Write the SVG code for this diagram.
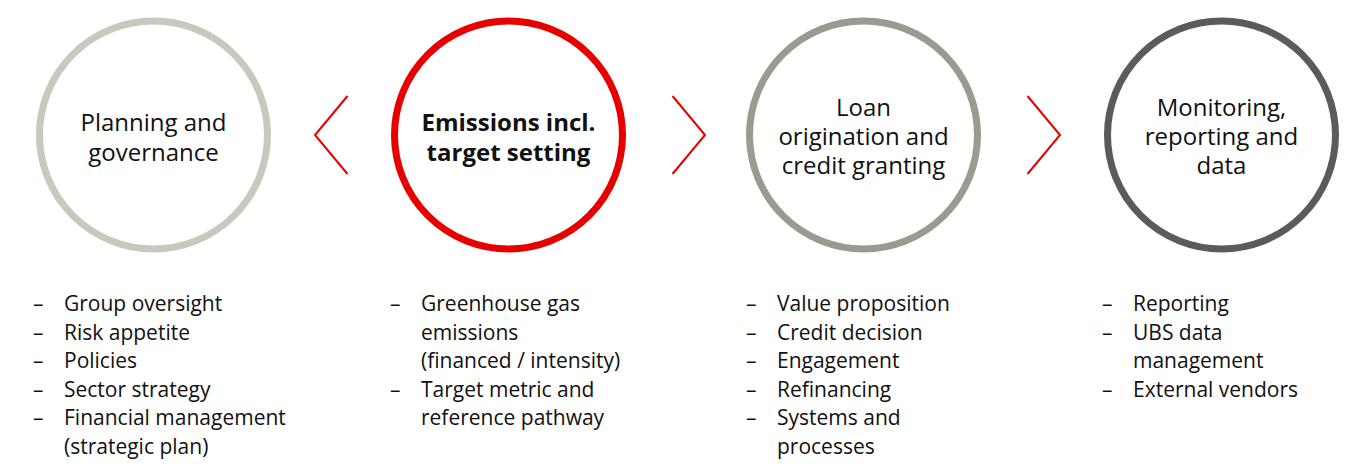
<svg xmlns="http://www.w3.org/2000/svg" width="1359" height="468" viewBox="0 0 1359 468">
<style>
.ring{fill:#fff;stroke-width:7}
.ct{font-family:"Open Sans","Noto Sans",sans-serif;font-size:24px;fill:#111;text-anchor:middle}
.bold{font-weight:bold}
.li{font-family:"Open Sans","Noto Sans",sans-serif;font-size:21px;fill:#111}
.chev{fill:none;stroke:#e60000;stroke-width:2}
</style>
<rect width="1359" height="468" fill="#fff"/>
<g id="connectors">
<polyline class="chev" points="347.5,96 315,135 347.5,174"/>
<polyline class="chev" points="672.5,96 705,135 672.5,174"/>
<polyline class="chev" points="1027.5,96 1060,135 1027.5,174"/>
</g>
<g id="planning">
<circle class="ring" cx="153.5" cy="135" r="114" stroke="#c9c8bc"/>
<text class="ct" x="153.5" y="131">Planning and</text>
<text class="ct" x="153.5" y="161">governance</text>
</g>
<g id="emissions">
<circle class="ring" cx="508.5" cy="135" r="114" stroke="#e60000"/>
<text class="ct bold" x="508.5" y="131">Emissions incl.</text>
<text class="ct bold" x="508.5" y="161">target setting</text>
</g>
<g id="loan">
<circle class="ring" cx="863.5" cy="135" r="114" stroke="#9a9a91"/>
<text class="ct" x="863.5" y="116">Loan</text>
<text class="ct" x="863.5" y="145">origination and</text>
<text class="ct" x="863.5" y="174">credit granting</text>
</g>
<g id="monitoring">
<circle class="ring" cx="1221.5" cy="135" r="114" stroke="#5b5c5a"/>
<text class="ct" x="1221.5" y="116">Monitoring,</text>
<text class="ct" x="1221.5" y="145">reporting and</text>
<text class="ct" x="1221.5" y="174">data</text>
</g>
<g id="list1">
<text class="li" x="33" y="311">–</text><text class="li" x="64" y="311">Group oversight</text>
<text class="li" x="33" y="339.5">–</text><text class="li" x="64" y="339.5">Risk appetite</text>
<text class="li" x="33" y="368">–</text><text class="li" x="64" y="368">Policies</text>
<text class="li" x="33" y="396.5">–</text><text class="li" x="64" y="396.5">Sector strategy</text>
<text class="li" x="33" y="425">–</text><text class="li" x="64" y="425">Financial management</text>
<text class="li" x="64" y="453.5">(strategic plan)</text>
</g>
<g id="list2">
<text class="li" x="390" y="311">–</text><text class="li" x="421" y="311">Greenhouse gas</text>
<text class="li" x="421" y="339.5">emissions</text>
<text class="li" x="421" y="368">(financed / intensity)</text>
<text class="li" x="390" y="396.5">–</text><text class="li" x="421" y="396.5">Target metric and</text>
<text class="li" x="421" y="425">reference pathway</text>
</g>
<g id="list3">
<text class="li" x="746" y="311">–</text><text class="li" x="777" y="311">Value proposition</text>
<text class="li" x="746" y="339.5">–</text><text class="li" x="777" y="339.5">Credit decision</text>
<text class="li" x="746" y="368">–</text><text class="li" x="777" y="368">Engagement</text>
<text class="li" x="746" y="396.5">–</text><text class="li" x="777" y="396.5">Refinancing</text>
<text class="li" x="746" y="425">–</text><text class="li" x="777" y="425">Systems and</text>
<text class="li" x="777" y="453.5">processes</text>
</g>
<g id="list4">
<text class="li" x="1102" y="311">–</text><text class="li" x="1133" y="311">Reporting</text>
<text class="li" x="1102" y="339.5">–</text><text class="li" x="1133" y="339.5">UBS data</text>
<text class="li" x="1133" y="368">management</text>
<text class="li" x="1102" y="396.5">–</text><text class="li" x="1133" y="396.5">External vendors</text>
</g>
</svg>
